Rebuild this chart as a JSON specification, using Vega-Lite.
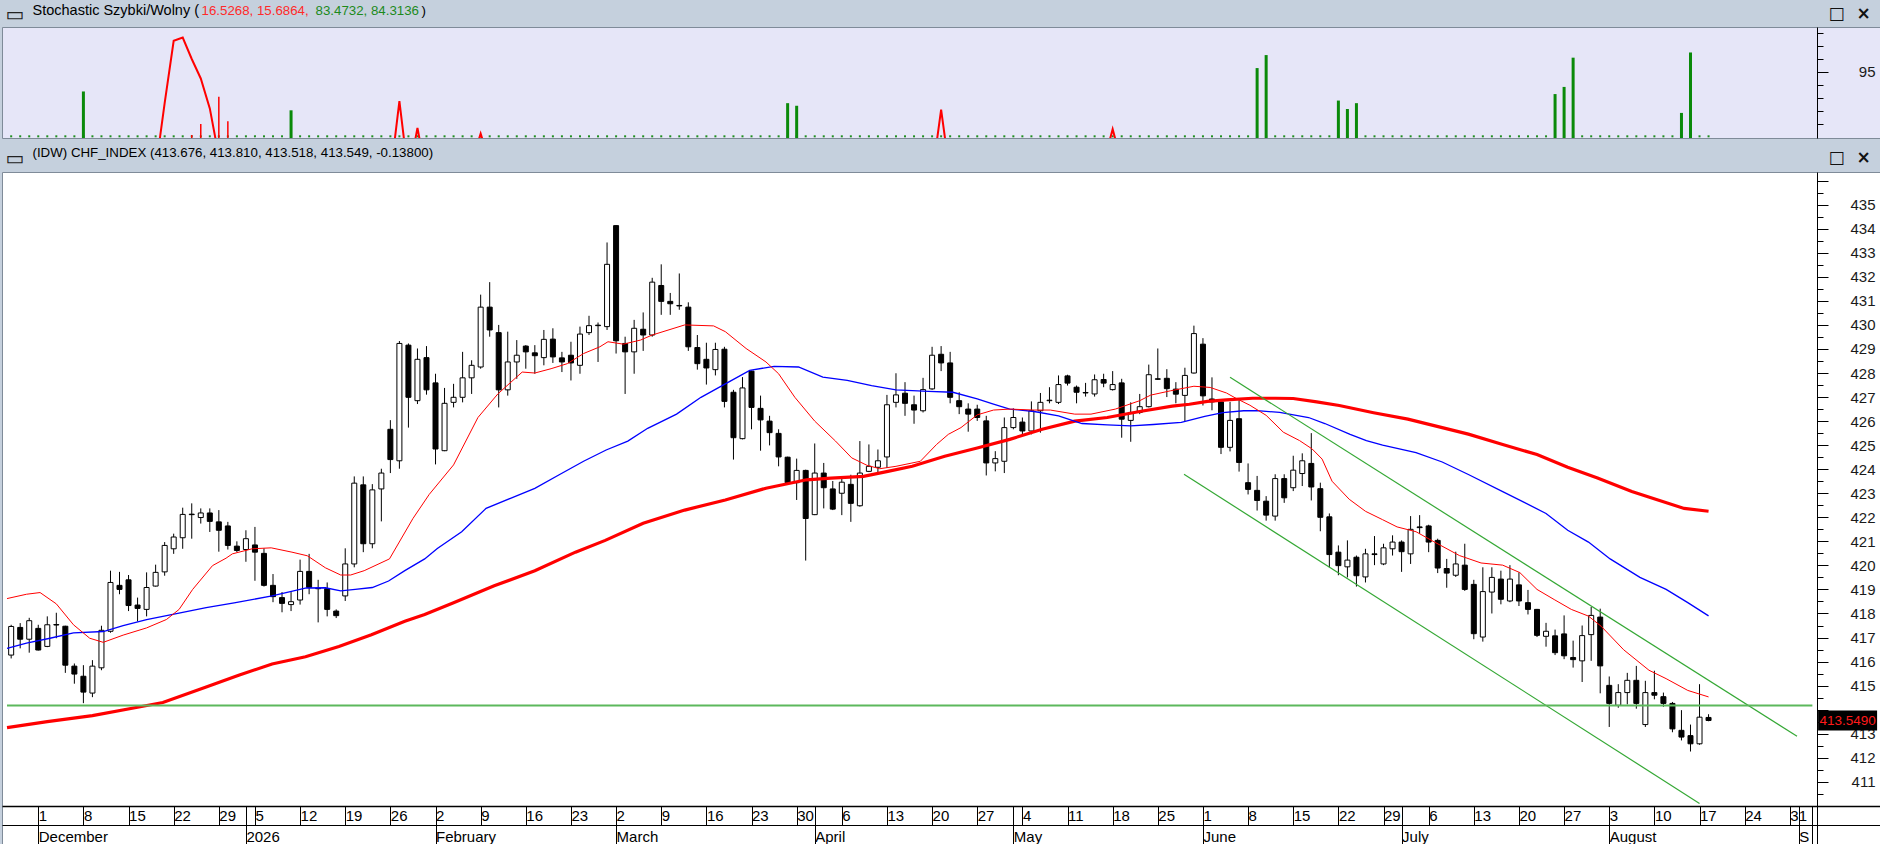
{
  "$schema": "https://vega.github.io/schema/vega-lite/v6.json",
  "background": "#c5d0dd",
  "padding": {"left": 0, "right": 0, "top": 2, "bottom": 0},
  "spacing": 6,
  "config": {"font": "Liberation Sans", "axis": {"labelFont": "Liberation Sans", "titleFont": "Liberation Sans"}},
  "datasets": {
    "candles": [
      {"i": -4, "o": 416.27, "h": 417.53, "l": 416.13, "c": 417.46},
      {"i": -3, "o": 417.42, "h": 417.6, "l": 416.55, "c": 416.93},
      {"i": -2, "o": 416.93, "h": 417.82, "l": 416.37, "c": 417.7},
      {"i": -1, "o": 417.38, "h": 417.53, "l": 416.46, "c": 416.48},
      {"i": 0, "o": 416.63, "h": 417.88, "l": 416.6, "c": 417.53},
      {"i": 1, "o": 417.54, "h": 418.03, "l": 416.97, "c": 417.52},
      {"i": 2, "o": 417.47, "h": 417.49, "l": 415.53, "c": 415.85},
      {"i": 3, "o": 415.81, "h": 415.92, "l": 415.08, "c": 415.48},
      {"i": 4, "o": 415.39, "h": 415.85, "l": 414.27, "c": 414.73},
      {"i": 5, "o": 414.69, "h": 416.06, "l": 414.52, "c": 415.81},
      {"i": 6, "o": 415.74, "h": 417.49, "l": 415.64, "c": 417.3},
      {"i": 7, "o": 417.26, "h": 419.78, "l": 417.2, "c": 419.29},
      {"i": 8, "o": 419.17, "h": 419.73, "l": 418.8, "c": 419.0},
      {"i": 9, "o": 419.4, "h": 419.6, "l": 418.1, "c": 418.33},
      {"i": 10, "o": 418.35, "h": 418.66, "l": 417.67, "c": 418.21},
      {"i": 11, "o": 418.17, "h": 419.71, "l": 417.88, "c": 419.08},
      {"i": 12, "o": 419.14, "h": 420.03, "l": 419.12, "c": 419.71},
      {"i": 13, "o": 419.73, "h": 420.97, "l": 419.57, "c": 420.83},
      {"i": 14, "o": 420.69, "h": 421.32, "l": 420.48, "c": 421.18},
      {"i": 15, "o": 421.15, "h": 422.4, "l": 420.69, "c": 422.12},
      {"i": 16, "o": 422.13, "h": 422.58, "l": 421.11, "c": 422.11},
      {"i": 17, "o": 421.99, "h": 422.37, "l": 421.74, "c": 422.18},
      {"i": 18, "o": 422.18, "h": 422.37, "l": 421.39, "c": 421.83},
      {"i": 19, "o": 421.81, "h": 422.3, "l": 420.57, "c": 421.46},
      {"i": 20, "o": 421.64, "h": 421.81, "l": 420.66, "c": 420.83},
      {"i": 21, "o": 420.8, "h": 421.0, "l": 420.55, "c": 420.62},
      {"i": 22, "o": 420.66, "h": 421.46, "l": 420.15, "c": 421.11},
      {"i": 23, "o": 420.85, "h": 421.6, "l": 419.36, "c": 420.55},
      {"i": 24, "o": 420.5, "h": 420.71, "l": 419.12, "c": 419.17},
      {"i": 25, "o": 419.17, "h": 419.64, "l": 418.47, "c": 418.7},
      {"i": 26, "o": 418.66, "h": 418.89, "l": 418.05, "c": 418.42},
      {"i": 27, "o": 418.37, "h": 418.89, "l": 418.1, "c": 418.49},
      {"i": 28, "o": 418.56, "h": 420.24, "l": 418.37, "c": 419.75},
      {"i": 29, "o": 419.75, "h": 420.48, "l": 418.8, "c": 419.08},
      {"i": 30, "o": 419.05, "h": 419.4, "l": 417.63, "c": 419.03},
      {"i": 31, "o": 419.03, "h": 419.29, "l": 417.88, "c": 418.17},
      {"i": 32, "o": 418.1, "h": 418.17, "l": 417.81, "c": 417.91},
      {"i": 33, "o": 418.73, "h": 420.71, "l": 418.52, "c": 420.06},
      {"i": 34, "o": 420.06, "h": 423.7, "l": 419.92, "c": 423.42},
      {"i": 35, "o": 423.35, "h": 423.7, "l": 420.55, "c": 420.9},
      {"i": 36, "o": 420.9, "h": 423.38, "l": 420.71, "c": 423.14},
      {"i": 37, "o": 423.18, "h": 424.02, "l": 421.83, "c": 423.84},
      {"i": 38, "o": 425.66, "h": 426.04, "l": 423.84, "c": 424.4},
      {"i": 39, "o": 424.35, "h": 429.33, "l": 424.02, "c": 429.23},
      {"i": 40, "o": 429.16, "h": 429.23, "l": 425.73, "c": 426.99},
      {"i": 41, "o": 426.85, "h": 429.02, "l": 426.71, "c": 428.57},
      {"i": 42, "o": 428.64, "h": 429.12, "l": 427.1, "c": 427.3},
      {"i": 43, "o": 427.59, "h": 427.97, "l": 424.2, "c": 424.84},
      {"i": 44, "o": 424.77, "h": 427.38, "l": 424.75, "c": 426.74},
      {"i": 45, "o": 426.78, "h": 427.55, "l": 426.57, "c": 426.99},
      {"i": 46, "o": 426.99, "h": 428.88, "l": 426.78, "c": 427.8},
      {"i": 47, "o": 427.8, "h": 428.53, "l": 427.13, "c": 428.32},
      {"i": 48, "o": 428.25, "h": 431.26, "l": 428.18, "c": 430.74},
      {"i": 49, "o": 430.74, "h": 431.78, "l": 429.51, "c": 429.79},
      {"i": 50, "o": 429.68, "h": 430.0, "l": 426.57, "c": 427.3},
      {"i": 51, "o": 427.3, "h": 429.72, "l": 427.06, "c": 428.46},
      {"i": 52, "o": 428.46, "h": 429.37, "l": 427.76, "c": 428.74},
      {"i": 53, "o": 429.12, "h": 429.16, "l": 428.18, "c": 428.88},
      {"i": 54, "o": 428.84, "h": 429.16, "l": 427.97, "c": 428.72},
      {"i": 55, "o": 428.64, "h": 429.79, "l": 428.32, "c": 429.4},
      {"i": 56, "o": 429.41, "h": 429.86, "l": 428.42, "c": 428.67},
      {"i": 57, "o": 428.63, "h": 428.88, "l": 428.04, "c": 428.46},
      {"i": 58, "o": 428.74, "h": 429.3, "l": 427.69, "c": 428.42},
      {"i": 59, "o": 428.32, "h": 429.93, "l": 427.97, "c": 429.62},
      {"i": 60, "o": 429.68, "h": 430.38, "l": 429.58, "c": 429.97},
      {"i": 61, "o": 429.99, "h": 430.1, "l": 428.46, "c": 429.97},
      {"i": 62, "o": 429.93, "h": 433.43, "l": 429.79, "c": 432.52},
      {"i": 63, "o": 434.13, "h": 434.15, "l": 428.81, "c": 429.34},
      {"i": 64, "o": 429.23, "h": 429.51, "l": 427.13, "c": 428.88},
      {"i": 65, "o": 428.88, "h": 430.21, "l": 427.97, "c": 429.86},
      {"i": 66, "o": 429.82, "h": 430.52, "l": 428.92, "c": 429.58},
      {"i": 67, "o": 429.58, "h": 431.96, "l": 429.51, "c": 431.78},
      {"i": 68, "o": 431.64, "h": 432.52, "l": 430.42, "c": 430.98},
      {"i": 69, "o": 430.98, "h": 431.33, "l": 430.42, "c": 430.88},
      {"i": 70, "o": 430.81, "h": 432.14, "l": 430.63, "c": 430.79},
      {"i": 71, "o": 430.74, "h": 430.94, "l": 428.92, "c": 429.09},
      {"i": 72, "o": 429.06, "h": 429.58, "l": 428.14, "c": 428.39},
      {"i": 73, "o": 428.57, "h": 429.26, "l": 427.52, "c": 428.21},
      {"i": 74, "o": 428.14, "h": 429.26, "l": 427.9, "c": 428.98},
      {"i": 75, "o": 428.99, "h": 429.09, "l": 426.57, "c": 426.82},
      {"i": 76, "o": 427.2, "h": 427.3, "l": 424.4, "c": 425.31},
      {"i": 77, "o": 425.27, "h": 427.83, "l": 425.24, "c": 427.38},
      {"i": 78, "o": 428.08, "h": 428.1, "l": 425.66, "c": 426.57},
      {"i": 79, "o": 426.53, "h": 427.06, "l": 424.77, "c": 426.05},
      {"i": 80, "o": 426.0, "h": 426.22, "l": 424.99, "c": 425.52},
      {"i": 81, "o": 425.49, "h": 425.66, "l": 424.12, "c": 424.51},
      {"i": 82, "o": 424.5, "h": 424.52, "l": 423.35, "c": 423.44},
      {"i": 83, "o": 423.44, "h": 424.44, "l": 422.72, "c": 423.95},
      {"i": 84, "o": 423.95, "h": 423.98, "l": 420.2, "c": 421.95},
      {"i": 85, "o": 422.11, "h": 425.07, "l": 422.09, "c": 423.84},
      {"i": 86, "o": 423.84, "h": 424.26, "l": 422.37, "c": 423.23},
      {"i": 87, "o": 423.18, "h": 423.51, "l": 422.3, "c": 422.34},
      {"i": 88, "o": 423.0, "h": 423.63, "l": 422.09, "c": 423.46},
      {"i": 89, "o": 423.37, "h": 423.77, "l": 421.81, "c": 422.58},
      {"i": 90, "o": 422.48, "h": 425.17, "l": 422.44, "c": 423.84},
      {"i": 91, "o": 423.91, "h": 425.03, "l": 423.88, "c": 424.12},
      {"i": 92, "o": 424.08, "h": 424.82, "l": 423.84, "c": 424.35},
      {"i": 93, "o": 424.51, "h": 427.09, "l": 424.05, "c": 426.68},
      {"i": 94, "o": 426.78, "h": 427.99, "l": 426.57, "c": 427.09},
      {"i": 95, "o": 427.16, "h": 427.62, "l": 426.22, "c": 426.74},
      {"i": 96, "o": 426.68, "h": 427.06, "l": 425.89, "c": 426.46},
      {"i": 97, "o": 426.43, "h": 427.8, "l": 426.36, "c": 427.31},
      {"i": 98, "o": 427.34, "h": 429.09, "l": 427.3, "c": 428.74},
      {"i": 99, "o": 428.78, "h": 429.12, "l": 428.08, "c": 428.42},
      {"i": 100, "o": 428.42, "h": 428.88, "l": 426.74, "c": 426.99},
      {"i": 101, "o": 426.85, "h": 427.2, "l": 426.29, "c": 426.6},
      {"i": 102, "o": 426.5, "h": 426.74, "l": 425.56, "c": 426.29},
      {"i": 103, "o": 426.5, "h": 426.68, "l": 426.01, "c": 426.15},
      {"i": 104, "o": 426.01, "h": 426.22, "l": 423.74, "c": 424.26},
      {"i": 105, "o": 424.26, "h": 424.75, "l": 423.91, "c": 424.44},
      {"i": 106, "o": 424.33, "h": 426.15, "l": 423.84, "c": 425.73},
      {"i": 107, "o": 425.73, "h": 426.53, "l": 425.66, "c": 426.15},
      {"i": 108, "o": 425.96, "h": 426.15, "l": 425.45, "c": 425.59},
      {"i": 109, "o": 425.59, "h": 426.82, "l": 425.45, "c": 426.43},
      {"i": 110, "o": 426.43, "h": 427.17, "l": 425.52, "c": 426.78},
      {"i": 111, "o": 426.85, "h": 427.41, "l": 426.74, "c": 426.87},
      {"i": 112, "o": 426.78, "h": 427.9, "l": 426.71, "c": 427.52},
      {"i": 113, "o": 427.88, "h": 427.93, "l": 427.48, "c": 427.58},
      {"i": 114, "o": 427.41, "h": 427.48, "l": 426.74, "c": 427.2},
      {"i": 115, "o": 427.17, "h": 427.59, "l": 427.02, "c": 427.19},
      {"i": 116, "o": 427.13, "h": 427.94, "l": 427.02, "c": 427.72},
      {"i": 117, "o": 427.73, "h": 427.97, "l": 427.41, "c": 427.58},
      {"i": 118, "o": 427.31, "h": 428.08, "l": 427.27, "c": 427.52},
      {"i": 119, "o": 427.59, "h": 427.76, "l": 425.31, "c": 426.08},
      {"i": 120, "o": 426.03, "h": 426.78, "l": 425.14, "c": 426.36},
      {"i": 121, "o": 426.36, "h": 427.13, "l": 426.29, "c": 426.6},
      {"i": 122, "o": 426.6, "h": 428.35, "l": 426.57, "c": 427.93},
      {"i": 123, "o": 427.76, "h": 429.02, "l": 427.72, "c": 427.74},
      {"i": 124, "o": 427.78, "h": 428.16, "l": 427.0, "c": 427.35},
      {"i": 125, "o": 427.33, "h": 427.62, "l": 426.74, "c": 427.12},
      {"i": 126, "o": 427.07, "h": 428.22, "l": 426.0, "c": 427.9},
      {"i": 127, "o": 428.0, "h": 429.97, "l": 427.98, "c": 429.64},
      {"i": 128, "o": 429.2, "h": 429.45, "l": 426.65, "c": 427.05},
      {"i": 129, "o": 426.92, "h": 427.82, "l": 426.45, "c": 426.8},
      {"i": 130, "o": 426.8, "h": 426.87, "l": 424.63, "c": 424.91},
      {"i": 131, "o": 424.91, "h": 426.8, "l": 424.74, "c": 426.03},
      {"i": 132, "o": 426.1, "h": 426.87, "l": 423.9, "c": 424.28},
      {"i": 133, "o": 423.44, "h": 424.24, "l": 422.95, "c": 423.16},
      {"i": 134, "o": 423.12, "h": 423.72, "l": 422.28, "c": 422.7},
      {"i": 135, "o": 422.67, "h": 422.88, "l": 421.86, "c": 422.09},
      {"i": 136, "o": 422.05, "h": 423.79, "l": 421.86, "c": 423.61},
      {"i": 137, "o": 423.61, "h": 423.79, "l": 422.6, "c": 422.81},
      {"i": 138, "o": 423.23, "h": 424.56, "l": 423.09, "c": 423.96},
      {"i": 139, "o": 423.82, "h": 424.66, "l": 423.3, "c": 424.35},
      {"i": 140, "o": 424.24, "h": 425.5, "l": 422.7, "c": 423.26},
      {"i": 141, "o": 423.19, "h": 423.44, "l": 421.42, "c": 422.0},
      {"i": 142, "o": 422.02, "h": 422.16, "l": 419.92, "c": 420.45},
      {"i": 143, "o": 420.55, "h": 420.83, "l": 419.59, "c": 419.99},
      {"i": 144, "o": 419.94, "h": 421.04, "l": 419.5, "c": 420.22},
      {"i": 145, "o": 420.34, "h": 420.41, "l": 419.12, "c": 419.57},
      {"i": 146, "o": 419.52, "h": 420.69, "l": 419.29, "c": 420.48},
      {"i": 147, "o": 420.48, "h": 421.22, "l": 420.01, "c": 420.45},
      {"i": 148, "o": 420.06, "h": 420.9, "l": 420.01, "c": 420.73},
      {"i": 149, "o": 420.69, "h": 421.25, "l": 420.41, "c": 420.97},
      {"i": 150, "o": 420.97, "h": 421.04, "l": 419.73, "c": 420.57},
      {"i": 151, "o": 420.48, "h": 422.05, "l": 420.06, "c": 421.5},
      {"i": 152, "o": 421.6, "h": 422.09, "l": 421.32, "c": 421.57},
      {"i": 153, "o": 421.64, "h": 421.69, "l": 420.55, "c": 420.97},
      {"i": 154, "o": 421.04, "h": 421.11, "l": 419.68, "c": 419.89},
      {"i": 155, "o": 419.87, "h": 420.27, "l": 419.07, "c": 419.68},
      {"i": 156, "o": 419.59, "h": 420.57, "l": 419.52, "c": 420.06},
      {"i": 157, "o": 420.01, "h": 420.9, "l": 418.94, "c": 419.0},
      {"i": 158, "o": 419.21, "h": 419.4, "l": 416.93, "c": 417.16},
      {"i": 159, "o": 417.02, "h": 419.92, "l": 416.83, "c": 418.91},
      {"i": 160, "o": 418.89, "h": 419.92, "l": 418.0, "c": 419.5},
      {"i": 161, "o": 419.43, "h": 419.78, "l": 418.38, "c": 418.59},
      {"i": 162, "o": 418.52, "h": 420.01, "l": 418.47, "c": 419.43},
      {"i": 163, "o": 419.19, "h": 419.71, "l": 418.31, "c": 418.52},
      {"i": 164, "o": 418.45, "h": 418.98, "l": 417.96, "c": 418.17},
      {"i": 165, "o": 418.17, "h": 418.19, "l": 417.02, "c": 417.09},
      {"i": 166, "o": 417.05, "h": 417.61, "l": 416.62, "c": 417.26},
      {"i": 167, "o": 417.07, "h": 417.33, "l": 416.27, "c": 416.37},
      {"i": 168, "o": 417.15, "h": 417.92, "l": 416.1, "c": 416.24},
      {"i": 169, "o": 416.17, "h": 416.87, "l": 415.75, "c": 416.08},
      {"i": 170, "o": 416.03, "h": 417.5, "l": 415.15, "c": 417.08},
      {"i": 171, "o": 417.12, "h": 418.27, "l": 416.03, "c": 417.92},
      {"i": 172, "o": 417.85, "h": 418.2, "l": 414.68, "c": 415.82},
      {"i": 173, "o": 415.01, "h": 415.38, "l": 413.28, "c": 414.26},
      {"i": 174, "o": 414.18, "h": 415.06, "l": 414.08, "c": 414.71},
      {"i": 175, "o": 414.71, "h": 415.53, "l": 414.22, "c": 415.22},
      {"i": 176, "o": 415.22, "h": 415.82, "l": 414.04, "c": 414.26},
      {"i": 177, "o": 413.38, "h": 415.2, "l": 413.28, "c": 414.71},
      {"i": 178, "o": 414.71, "h": 415.62, "l": 414.43, "c": 414.6},
      {"i": 179, "o": 414.54, "h": 414.71, "l": 414.12, "c": 414.26},
      {"i": 180, "o": 414.26, "h": 414.32, "l": 413.06, "c": 413.2},
      {"i": 181, "o": 413.14, "h": 413.98, "l": 412.72, "c": 412.86},
      {"i": 182, "o": 412.92, "h": 413.38, "l": 412.26, "c": 412.58},
      {"i": 183, "o": 412.58, "h": 415.06, "l": 412.54, "c": 413.687},
      {"i": 184, "o": 413.676, "h": 413.81, "l": 413.518, "c": 413.549}
    ],
    "ma": [
      {"ma": "fast", "i": -4.46, "v": 418.62}, {"ma": "fast", "i": -2.3, "v": 418.8}, {"ma": "fast", "i": -0.8, "v": 418.87},
      {"ma": "fast", "i": 1.0, "v": 418.4}, {"ma": "fast", "i": 2.9, "v": 417.53}, {"ma": "fast", "i": 4.7, "v": 416.97},
      {"ma": "fast", "i": 6.2, "v": 416.8}, {"ma": "fast", "i": 8.4, "v": 417.1}, {"ma": "fast", "i": 11, "v": 417.4},
      {"ma": "fast", "i": 13.2, "v": 417.75}, {"ma": "fast", "i": 14.6, "v": 418.17}, {"ma": "fast", "i": 16.1, "v": 419.0},
      {"ma": "fast", "i": 18.3, "v": 419.99}, {"ma": "fast", "i": 19.8, "v": 420.3}, {"ma": "fast", "i": 20.5, "v": 420.48},
      {"ma": "fast", "i": 22.7, "v": 420.69}, {"ma": "fast", "i": 24.8, "v": 420.73}, {"ma": "fast", "i": 27.1, "v": 420.55},
      {"ma": "fast", "i": 28.8, "v": 420.4}, {"ma": "fast", "i": 30.8, "v": 419.9}, {"ma": "fast", "i": 32.5, "v": 419.6},
      {"ma": "fast", "i": 33.6, "v": 419.6}, {"ma": "fast", "i": 35.1, "v": 419.78}, {"ma": "fast", "i": 37.9, "v": 420.27},
      {"ma": "fast", "i": 40.5, "v": 421.95}, {"ma": "fast", "i": 42.3, "v": 422.95}, {"ma": "fast", "i": 45, "v": 424.18},
      {"ma": "fast", "i": 47.7, "v": 426.15}, {"ma": "fast", "i": 49.9, "v": 427.13}, {"ma": "fast", "i": 52.6, "v": 428.04},
      {"ma": "fast", "i": 54, "v": 428.0}, {"ma": "fast", "i": 55.8, "v": 428.18}, {"ma": "fast", "i": 57.6, "v": 428.39},
      {"ma": "fast", "i": 59.4, "v": 428.81}, {"ma": "fast", "i": 61.2, "v": 429.09}, {"ma": "fast", "i": 62.1, "v": 429.3},
      {"ma": "fast", "i": 63.8, "v": 429.2}, {"ma": "fast", "i": 65.7, "v": 429.37}, {"ma": "fast", "i": 67, "v": 429.58},
      {"ma": "fast", "i": 70.6, "v": 430.0}, {"ma": "fast", "i": 73.8, "v": 429.96}, {"ma": "fast", "i": 75.1, "v": 429.72},
      {"ma": "fast", "i": 77.4, "v": 429.02}, {"ma": "fast", "i": 79.6, "v": 428.46}, {"ma": "fast", "i": 81, "v": 427.97},
      {"ma": "fast", "i": 82.8, "v": 426.99}, {"ma": "fast", "i": 85, "v": 426.0}, {"ma": "fast", "i": 87.3, "v": 425.17},
      {"ma": "fast", "i": 89.1, "v": 424.47}, {"ma": "fast", "i": 90.8, "v": 424.16}, {"ma": "fast", "i": 92.2, "v": 424.02},
      {"ma": "fast", "i": 94, "v": 424.12}, {"ma": "fast", "i": 96.7, "v": 424.33}, {"ma": "fast", "i": 98.5, "v": 425.03},
      {"ma": "fast", "i": 99.8, "v": 425.45}, {"ma": "fast", "i": 101.2, "v": 425.73}, {"ma": "fast", "i": 103, "v": 426.26},
      {"ma": "fast", "i": 104.8, "v": 426.46}, {"ma": "fast", "i": 106.6, "v": 426.5}, {"ma": "fast", "i": 109.3, "v": 426.46},
      {"ma": "fast", "i": 111.1, "v": 426.46}, {"ma": "fast", "i": 113.8, "v": 426.29}, {"ma": "fast", "i": 115.6, "v": 426.29},
      {"ma": "fast", "i": 118.3, "v": 426.5}, {"ma": "fast", "i": 121, "v": 426.85}, {"ma": "fast", "i": 122.2, "v": 427.08},
      {"ma": "fast", "i": 124.4, "v": 427.26}, {"ma": "fast", "i": 127, "v": 427.45}, {"ma": "fast", "i": 128.8, "v": 427.4},
      {"ma": "fast", "i": 130.6, "v": 427.17}, {"ma": "fast", "i": 131.7, "v": 426.94}, {"ma": "fast", "i": 133.2, "v": 426.66},
      {"ma": "fast", "i": 135, "v": 426.24}, {"ma": "fast", "i": 136.9, "v": 425.54}, {"ma": "fast", "i": 138.7, "v": 425.19},
      {"ma": "fast", "i": 140.1, "v": 424.84}, {"ma": "fast", "i": 141.2, "v": 424.42}, {"ma": "fast", "i": 142.3, "v": 423.5},
      {"ma": "fast", "i": 144.2, "v": 422.75}, {"ma": "fast", "i": 146, "v": 422.25}, {"ma": "fast", "i": 147.9, "v": 421.9},
      {"ma": "fast", "i": 149.5, "v": 421.6}, {"ma": "fast", "i": 151.6, "v": 421.4}, {"ma": "fast", "i": 153.5, "v": 421.0},
      {"ma": "fast", "i": 156.4, "v": 420.41}, {"ma": "fast", "i": 158.8, "v": 420.1}, {"ma": "fast", "i": 161.2, "v": 420.01},
      {"ma": "fast", "i": 163.1, "v": 419.7}, {"ma": "fast", "i": 165, "v": 419.0}, {"ma": "fast", "i": 166.9, "v": 418.58},
      {"ma": "fast", "i": 168.8, "v": 418.17}, {"ma": "fast", "i": 170.7, "v": 417.89}, {"ma": "fast", "i": 172.1, "v": 417.47},
      {"ma": "fast", "i": 174.6, "v": 416.49}, {"ma": "fast", "i": 177.4, "v": 415.64}, {"ma": "fast", "i": 179.3, "v": 415.29},
      {"ma": "fast", "i": 181.7, "v": 414.8}, {"ma": "fast", "i": 184, "v": 414.53},
      {"ma": "mid", "i": -4.46, "v": 416.55}, {"ma": "mid", "i": -2.3, "v": 416.77}, {"ma": "mid", "i": 0.3, "v": 416.97},
      {"ma": "mid", "i": 2.9, "v": 417.19}, {"ma": "mid", "i": 6.2, "v": 417.25}, {"ma": "mid", "i": 8.4, "v": 417.49},
      {"ma": "mid", "i": 11, "v": 417.74}, {"ma": "mid", "i": 13.9, "v": 417.96}, {"ma": "mid", "i": 17.6, "v": 418.24},
      {"ma": "mid", "i": 20.7, "v": 418.44}, {"ma": "mid", "i": 24.9, "v": 418.73}, {"ma": "mid", "i": 28.7, "v": 419.06},
      {"ma": "mid", "i": 30.8, "v": 419.07}, {"ma": "mid", "i": 32.5, "v": 418.94}, {"ma": "mid", "i": 34.1, "v": 419.0},
      {"ma": "mid", "i": 36, "v": 419.08}, {"ma": "mid", "i": 37.8, "v": 419.35}, {"ma": "mid", "i": 39.6, "v": 419.78},
      {"ma": "mid", "i": 41.8, "v": 420.27}, {"ma": "mid", "i": 43.2, "v": 420.7}, {"ma": "mid", "i": 45.9, "v": 421.4},
      {"ma": "mid", "i": 48.6, "v": 422.37}, {"ma": "mid", "i": 51.3, "v": 422.79}, {"ma": "mid", "i": 54, "v": 423.2},
      {"ma": "mid", "i": 56.7, "v": 423.77}, {"ma": "mid", "i": 59.4, "v": 424.33}, {"ma": "mid", "i": 61.9, "v": 424.8},
      {"ma": "mid", "i": 64.3, "v": 425.17}, {"ma": "mid", "i": 66.5, "v": 425.7}, {"ma": "mid", "i": 69.7, "v": 426.29},
      {"ma": "mid", "i": 72.4, "v": 426.99}, {"ma": "mid", "i": 75.1, "v": 427.55}, {"ma": "mid", "i": 77.8, "v": 428.11},
      {"ma": "mid", "i": 80.5, "v": 428.28}, {"ma": "mid", "i": 83.2, "v": 428.25}, {"ma": "mid", "i": 85.9, "v": 427.83},
      {"ma": "mid", "i": 88.6, "v": 427.69}, {"ma": "mid", "i": 91.3, "v": 427.48}, {"ma": "mid", "i": 94, "v": 427.3},
      {"ma": "mid", "i": 97.6, "v": 427.24}, {"ma": "mid", "i": 100.3, "v": 427.2}, {"ma": "mid", "i": 103, "v": 426.92},
      {"ma": "mid", "i": 104.8, "v": 426.71}, {"ma": "mid", "i": 106.6, "v": 426.5}, {"ma": "mid", "i": 109.3, "v": 426.4},
      {"ma": "mid", "i": 112, "v": 426.22}, {"ma": "mid", "i": 114.6, "v": 425.9}, {"ma": "mid", "i": 117.4, "v": 425.84},
      {"ma": "mid", "i": 120, "v": 425.8}, {"ma": "mid", "i": 122.5, "v": 425.86}, {"ma": "mid", "i": 125.6, "v": 425.95},
      {"ma": "mid", "i": 128.2, "v": 426.2}, {"ma": "mid", "i": 130.2, "v": 426.35}, {"ma": "mid", "i": 132.5, "v": 426.43},
      {"ma": "mid", "i": 134, "v": 426.44}, {"ma": "mid", "i": 136.5, "v": 426.36}, {"ma": "mid", "i": 139.7, "v": 426.15},
      {"ma": "mid", "i": 141.5, "v": 425.9}, {"ma": "mid", "i": 144.3, "v": 425.45}, {"ma": "mid", "i": 146.1, "v": 425.19},
      {"ma": "mid", "i": 147.9, "v": 425.0}, {"ma": "mid", "i": 151.6, "v": 424.69}, {"ma": "mid", "i": 154.5, "v": 424.3},
      {"ma": "mid", "i": 157.4, "v": 423.78}, {"ma": "mid", "i": 161.2, "v": 423.07}, {"ma": "mid", "i": 166, "v": 422.16},
      {"ma": "mid", "i": 168.4, "v": 421.46}, {"ma": "mid", "i": 170.7, "v": 420.97}, {"ma": "mid", "i": 173.1, "v": 420.27},
      {"ma": "mid", "i": 176.4, "v": 419.5}, {"ma": "mid", "i": 179.3, "v": 419.0}, {"ma": "mid", "i": 181.7, "v": 418.45},
      {"ma": "mid", "i": 184, "v": 417.9},
      {"ma": "slow", "i": -4.46, "v": 413.25}, {"ma": "slow", "i": 0, "v": 413.5}, {"ma": "slow", "i": 5, "v": 413.75},
      {"ma": "slow", "i": 10, "v": 414.1}, {"ma": "slow", "i": 12.8, "v": 414.3}, {"ma": "slow", "i": 17.6, "v": 414.94},
      {"ma": "slow", "i": 21.2, "v": 415.43}, {"ma": "slow", "i": 24.9, "v": 415.9}, {"ma": "slow", "i": 28.6, "v": 416.2},
      {"ma": "slow", "i": 32.3, "v": 416.63}, {"ma": "slow", "i": 35.9, "v": 417.12}, {"ma": "slow", "i": 39.6, "v": 417.68},
      {"ma": "slow", "i": 41.8, "v": 417.96}, {"ma": "slow", "i": 45, "v": 418.45}, {"ma": "slow", "i": 49.5, "v": 419.15},
      {"ma": "slow", "i": 54, "v": 419.78}, {"ma": "slow", "i": 58.5, "v": 420.55}, {"ma": "slow", "i": 61.8, "v": 421.04},
      {"ma": "slow", "i": 66, "v": 421.75}, {"ma": "slow", "i": 70.6, "v": 422.3}, {"ma": "slow", "i": 75.1, "v": 422.72},
      {"ma": "slow", "i": 79.6, "v": 423.21}, {"ma": "slow", "i": 84.1, "v": 423.56}, {"ma": "slow", "i": 86.8, "v": 423.63},
      {"ma": "slow", "i": 90.4, "v": 423.7}, {"ma": "slow", "i": 93.1, "v": 423.91}, {"ma": "slow", "i": 95.8, "v": 424.12},
      {"ma": "slow", "i": 99.4, "v": 424.54}, {"ma": "slow", "i": 103, "v": 424.88}, {"ma": "slow", "i": 106.6, "v": 425.24},
      {"ma": "slow", "i": 110.2, "v": 425.66}, {"ma": "slow", "i": 113.8, "v": 426.0}, {"ma": "slow", "i": 117.4, "v": 426.15},
      {"ma": "slow", "i": 121, "v": 426.4}, {"ma": "slow", "i": 124.6, "v": 426.62}, {"ma": "slow", "i": 126.5, "v": 426.7},
      {"ma": "slow", "i": 128.5, "v": 426.82}, {"ma": "slow", "i": 130.6, "v": 426.88}, {"ma": "slow", "i": 133.5, "v": 426.95},
      {"ma": "slow", "i": 136, "v": 426.95}, {"ma": "slow", "i": 138, "v": 426.94}, {"ma": "slow", "i": 140.6, "v": 426.8},
      {"ma": "slow", "i": 143.1, "v": 426.65}, {"ma": "slow", "i": 146.9, "v": 426.35}, {"ma": "slow", "i": 150.7, "v": 426.08},
      {"ma": "slow", "i": 154.5, "v": 425.73}, {"ma": "slow", "i": 157.4, "v": 425.46}, {"ma": "slow", "i": 161.2, "v": 425.03},
      {"ma": "slow", "i": 165, "v": 424.61}, {"ma": "slow", "i": 168.4, "v": 424.08}, {"ma": "slow", "i": 171.7, "v": 423.63},
      {"ma": "slow", "i": 175.5, "v": 423.07}, {"ma": "slow", "i": 178.4, "v": 422.72}, {"ma": "slow", "i": 181.3, "v": 422.37},
      {"ma": "slow", "i": 184, "v": 422.25}
    ],
    "channel": [
      {"line": "upper", "i": 131, "p": 427.82}, {"line": "upper", "i": 193.8, "p": 412.89},
      {"line": "lower", "i": 125.9, "p": 423.79}, {"line": "lower", "i": 183, "p": 410.1}
    ],
    "levels": [{"level": 414.17}],
    "stochGreen": [
      {"i": 4, "v": 93.5}, {"i": 27, "v": 92.05}, {"i": 82, "v": 92.6}, {"i": 83, "v": 92.4},
      {"i": 134, "v": 95.3}, {"i": 135, "v": 96.3}, {"i": 143, "v": 92.8}, {"i": 144, "v": 92.15},
      {"i": 145, "v": 92.6}, {"i": 167, "v": 93.3}, {"i": 168, "v": 93.85}, {"i": 169, "v": 96.1},
      {"i": 181, "v": 91.85}, {"i": 182, "v": 96.5}
    ],
    "stochRedBars": [
      {"i": 16, "v": 90.15}, {"i": 17, "v": 91.0}, {"i": 19, "v": 93.1}, {"i": 20, "v": 91.2}
    ],
    "stochRedLine": [
      {"i": 12, "v": 87.5}, {"i": 13, "v": 92.6}, {"i": 14, "v": 97.4}, {"i": 15, "v": 97.65},
      {"i": 16, "v": 96.0}, {"i": 17, "v": 94.5}, {"i": 18, "v": 92.2}, {"i": 19, "v": 88.5},
      {"i": 38, "v": 87}, {"i": 39, "v": 92.75}, {"i": 40, "v": 87}, {"i": 41, "v": 90.7}, {"i": 42, "v": 87},
      {"i": 47, "v": 88}, {"i": 48, "v": 90.26}, {"i": 49, "v": 88},
      {"i": 98, "v": 87}, {"i": 99, "v": 92.1}, {"i": 100, "v": 87},
      {"i": 117, "v": 88}, {"i": 118, "v": 90.6}, {"i": 119, "v": 88}
    ]
  },
  "vconcat": [
    {
      "width": 1880,
      "height": 111,
      "view": {"fill": "#e6e6f8", "stroke": "#7f8b99"},
      "resolve": {"axis": {"x": "independent", "y": "independent"}},
      "layer": [
        {
          "data": {"name": "candles"},
          "mark": {"type": "square", "size": 4, "color": "#1f8f1f", "opacity": 1},
          "encoding": {
            "x": {"field": "i", "type": "quantitative", "scale": {"domain": [-4.462, 202.657], "nice": false, "zero": false},
              "axis": {"orient": "top", "domain": false, "ticks": false, "labels": false, "grid": false,
                "title": "Stochastic Szybki/Wolny (", "titleX": 30, "titleY": -12.5, "titleAlign": "left", "titleBaseline": "alphabetic",
                "titleFontSize": 14.5, "titleFontWeight": "normal", "titleColor": "#000000"}},
            "y": {"datum": 90.05, "type": "quantitative", "scale": {"domain": [89.92, 98.46], "nice": false, "zero": false},
              "axis": {"orient": "right", "offset": -65, "values": [91, 92, 93, 94, 96, 97, 98], "tickSize": 6, "labels": false,
                "domain": false, "grid": false, "tickColor": "#000000",
                "title": "□\u00a0\u00a0×", "titleAngle": 0, "titleX": 11, "titleY": -14, "titleAlign": "left", "titleBaseline": "middle",
                "titleFont": "DejaVu Sans", "titleFontSize": 17, "titleFontWeight": "bold", "titleColor": "#111111"}}
          }
        },
        {
          "data": {"name": "stochGreen"},
          "mark": {"type": "bar", "width": 3, "color": "#0a8a0a"},
          "encoding": {
            "x": {"field": "i", "type": "quantitative", "scale": {"domain": [-4.462, 202.657], "nice": false, "zero": false},
              "axis": {"orient": "top", "domain": false, "ticks": false, "labels": false, "grid": false,
                "title": "83.4732, 84.3136", "titleX": 313, "titleY": -12.5, "titleAlign": "left", "titleBaseline": "alphabetic",
                "titleFontSize": 13.3, "titleFontWeight": "normal", "titleColor": "#1c8a1c"}},
            "y": {"field": "v", "type": "quantitative", "scale": {"domain": [89.92, 98.46], "nice": false, "zero": false},
              "axis": {"orient": "right", "offset": -65, "values": [95], "tickSize": 11, "labelPadding": 47, "labelAlign": "right",
                "labelBaseline": "middle", "labelFontSize": 15, "labelColor": "#1a1a1a", "domainColor": "#000000",
                "tickColor": "#000000", "grid": false,
                "title": "▭", "titleAngle": 0, "titleX": -1812, "titleY": -13, "titleAlign": "left", "titleBaseline": "middle",
                "titleFont": "DejaVu Sans", "titleFontSize": 20, "titleFontWeight": "bold", "titleColor": "#222222"}},
            "y2": {"datum": 89.92}
          }
        },
        {
          "data": {"name": "stochRedBars"},
          "mark": {"type": "bar", "width": 1.5, "color": "#ff0000"},
          "encoding": {
            "x": {"field": "i", "type": "quantitative", "scale": {"domain": [-4.462, 202.657], "nice": false, "zero": false},
              "axis": {"orient": "top", "domain": false, "ticks": false, "labels": false, "grid": false,
                "title": ")", "titleX": 419, "titleY": -12.5, "titleAlign": "left", "titleBaseline": "alphabetic",
                "titleFontSize": 13.3, "titleFontWeight": "normal", "titleColor": "#000000"}},
            "y": {"field": "v", "type": "quantitative", "scale": {"domain": [89.92, 98.46], "nice": false, "zero": false}, "axis": null},
            "y2": {"datum": 89.92}
          }
        },
        {
          "data": {"name": "stochRedLine"},
          "mark": {"type": "line", "color": "#ff0000", "strokeWidth": 2, "clip": true},
          "encoding": {
            "x": {"field": "i", "type": "quantitative", "scale": {"domain": [-4.462, 202.657], "nice": false, "zero": false},
              "axis": {"orient": "top", "domain": false, "ticks": false, "labels": false, "grid": false,
                "title": "16.5268, 15.6864,", "titleX": 199, "titleY": -12.5, "titleAlign": "left", "titleBaseline": "alphabetic",
                "titleFontSize": 13.3, "titleFontWeight": "normal", "titleColor": "#ff2a2a"}},
            "y": {"field": "v", "type": "quantitative", "scale": {"domain": [89.92, 98.46], "nice": false, "zero": false}, "axis": null}
          }
        }
      ]
    },
    {
      "width": 1880,
      "height": 674,
      "view": {"fill": "#ffffff", "stroke": "#7f8b99"},
      "resolve": {"axis": {"x": "independent", "y": "independent"}},
      "layer": [
        {
          "data": {"name": "candles"},
          "mark": {"type": "rule", "color": "#000000", "strokeWidth": 1},
          "encoding": {
            "x": {"field": "i", "type": "quantitative", "scale": {"domain": [-4.462, 202.657], "nice": false, "zero": false},
              "axis": {"orient": "bottom", "offset": -40, "title": null, "grid": false,
                "values": [-1, 4, 9, 14, 19, 23, 28, 33, 38, 43, 48, 53, 58, 63, 68, 73, 78, 83, 88, 93, 98, 103, 108, 113, 118, 123, 128, 133, 138, 143, 148, 153, 158, 163, 168, 173, 178, 183, 188, 193, 195.5],
                "labelExpr": "['1','8','15','22','29','5','12','19','26','2','9','16','23','2','9','16','23','30','6','13','20','27','4','11','18','25','1','8','15','22','29','6','13','20','27','3','10','17','24','31',''][indexof([-1, 4, 9, 14, 19, 23, 28, 33, 38, 43, 48, 53, 58, 63, 68, 73, 78, 83, 88, 93, 98, 103, 108, 113, 118, 123, 128, 133, 138, 143, 148, 153, 158, 163, 168, 173, 178, 183, 188, 193, 195.5], datum.value)]",
                "tickSize": 19, "tickColor": "#000000", "domainColor": "#000000", "domainWidth": 1.5,
                "labelAlign": "left", "labelBaseline": "middle", "labelPadding": -9.5, "labelDx": 2,
                "labelFontSize": 15, "labelColor": "#000000", "labelOverlap": false, "labelBound": false, "labelFlush": false}},
            "y": {"field": "l", "type": "quantitative", "scale": {"domain": [408.33, 436.36], "nice": false, "zero": false},
              "axis": {"orient": "right", "offset": -65, "values": [410.5, 411.5, 412.5, 413.5, 414.5, 415.5, 416.5, 417.5, 418.5, 419.5, 420.5, 421.5, 422.5, 423.5, 424.5, 425.5, 426.5, 427.5, 428.5, 429.5, 430.5, 431.5, 432.5, 433.5, 434.5, 435.5],
                "tickSize": 6, "labels": false, "domain": false, "grid": false, "tickColor": "#000000",
                "title": "□\u00a0\u00a0×", "titleAngle": 0, "titleX": 11, "titleY": -15, "titleAlign": "left", "titleBaseline": "middle",
                "titleFont": "DejaVu Sans", "titleFontSize": 17, "titleFontWeight": "bold", "titleColor": "#111111"}},
            "y2": {"field": "h"}
          }
        },
        {
          "data": {"name": "candles"},
          "mark": {"type": "bar", "width": 5, "stroke": "#000000", "strokeWidth": 1},
          "encoding": {
            "x": {"field": "i", "type": "quantitative", "scale": {"domain": [-4.462, 202.657], "nice": false, "zero": false},
              "axis": {"orient": "bottom", "offset": -40, "title": null, "grid": false, "domain": false,
                "values": [-1, 22, 43, 63, 85, 107, 128, 150, 173, 194, 195.5],
                "labelExpr": "['December','2026','February','March','April','May','June','July','August','S',''][indexof([-1, 22, 43, 63, 85, 107, 128, 150, 173, 194, 195.5], datum.value)]",
                "tickSize": 40, "tickColor": "#000000",
                "labelAlign": "left", "labelBaseline": "middle", "labelPadding": -10, "labelDx": 2,
                "labelFontSize": 15, "labelColor": "#000000", "labelOverlap": false, "labelBound": false, "labelFlush": false}},
            "y": {"field": "o", "type": "quantitative", "scale": {"domain": [408.33, 436.36], "nice": false, "zero": false},
              "axis": {"orient": "right", "offset": -65, "values": [411, 412, 413, 414, 415, 416, 417, 418, 419, 420, 421, 422, 423, 424, 425, 426, 427, 428, 429, 430, 431, 432, 433, 434, 435, 436],
                "labelExpr": "datum.value > 435.5 || datum.value == 414 ? '' : datum.label",
                "tickSize": 11, "labelPadding": 47, "labelAlign": "right", "labelBaseline": "middle", "labelFontSize": 15,
                "labelColor": "#1a1a1a", "domainColor": "#000000", "tickColor": "#000000", "grid": false, "labelOverlap": false,
                "title": "▭", "titleAngle": 0, "titleX": -1812, "titleY": -14, "titleAlign": "left", "titleBaseline": "middle",
                "titleFont": "DejaVu Sans", "titleFontSize": 20, "titleFontWeight": "bold", "titleColor": "#222222"}},
            "y2": {"field": "c"},
            "fill": {"condition": {"test": "datum.c >= datum.o", "value": "#ffffff"}, "value": "#000000"}
          }
        },
        {
          "data": {"name": "ma"},
          "transform": [{"filter": "datum.ma == 'slow'"}],
          "mark": {"type": "line", "color": "#ff0000", "strokeWidth": 3.2},
          "encoding": {
            "x": {"field": "i", "type": "quantitative", "scale": {"domain": [-4.462, 202.657], "nice": false, "zero": false},
              "axis": {"orient": "bottom", "offset": -21, "ticks": false, "labels": false, "domain": true, "domainColor": "#000000", "grid": false, "title": null}},
            "y": {"field": "v", "type": "quantitative", "scale": {"domain": [408.33, 436.36], "nice": false, "zero": false}, "axis": null}
          }
        },
        {
          "data": {"name": "ma"},
          "transform": [{"filter": "datum.ma == 'mid'"}],
          "mark": {"type": "line", "color": "#0000ff", "strokeWidth": 1.3},
          "encoding": {
            "x": {"field": "i", "type": "quantitative", "scale": {"domain": [-4.462, 202.657], "nice": false, "zero": false}, "axis": null},
            "y": {"field": "v", "type": "quantitative", "scale": {"domain": [408.33, 436.36], "nice": false, "zero": false}, "axis": null}
          }
        },
        {
          "data": {"name": "ma"},
          "transform": [{"filter": "datum.ma == 'fast'"}],
          "mark": {"type": "line", "color": "#ff0000", "strokeWidth": 1},
          "encoding": {
            "x": {"field": "i", "type": "quantitative", "scale": {"domain": [-4.462, 202.657], "nice": false, "zero": false}, "axis": null},
            "y": {"field": "v", "type": "quantitative", "scale": {"domain": [408.33, 436.36], "nice": false, "zero": false}, "axis": null}
          }
        },
        {
          "data": {"name": "channel"},
          "mark": {"type": "line", "color": "#35a835", "strokeWidth": 1.2},
          "encoding": {
            "x": {"field": "i", "type": "quantitative", "scale": {"domain": [-4.462, 202.657], "nice": false, "zero": false},
              "axis": {"orient": "top", "domain": false, "ticks": false, "labels": false, "grid": false,
                "title": "(IDW) CHF_INDEX (413.676, 413.810, 413.518, 413.549, -0.13800)", "titleX": 30, "titleY": -15.5,
                "titleAlign": "left", "titleBaseline": "alphabetic", "titleFontSize": 13.3, "titleFontWeight": "normal", "titleColor": "#000000"}},
            "y": {"field": "p", "type": "quantitative", "scale": {"domain": [408.33, 436.36], "nice": false, "zero": false}, "axis": null},
            "detail": {"field": "line", "type": "nominal"}
          }
        },
        {
          "data": {"name": "levels"},
          "mark": {"type": "rule", "color": "#5cb85c", "strokeWidth": 2},
          "encoding": {
            "x": {"datum": -4.462, "type": "quantitative", "scale": {"domain": [-4.462, 202.657], "nice": false, "zero": false}, "axis": null},
            "x2": {"datum": 195.5},
            "y": {"field": "level", "type": "quantitative", "scale": {"domain": [408.33, 436.36], "nice": false, "zero": false}, "axis": null}
          }
        },
        {
          "data": {"name": "candles"},
          "transform": [{"filter": "datum.i == 184"}],
          "mark": {"type": "tick", "orient": "horizontal", "size": 59, "thickness": 20, "color": "#000000", "opacity": 1},
          "encoding": {
            "x": {"datum": 199.4, "type": "quantitative", "scale": {"domain": [-4.462, 202.657], "nice": false, "zero": false}, "axis": null},
            "y": {"field": "c", "type": "quantitative", "scale": {"domain": [408.33, 436.36], "nice": false, "zero": false}, "axis": null}
          }
        },
        {
          "data": {"name": "candles"},
          "transform": [{"filter": "datum.i == 184"}],
          "mark": {"type": "text", "color": "#ff1a1a", "fontSize": 13.5, "align": "center", "baseline": "middle", "font": "Liberation Sans"},
          "encoding": {
            "x": {"datum": 199.4, "type": "quantitative", "scale": {"domain": [-4.462, 202.657], "nice": false, "zero": false}, "axis": null},
            "y": {"field": "c", "type": "quantitative", "scale": {"domain": [408.33, 436.36], "nice": false, "zero": false}, "axis": null},
            "text": {"field": "c", "type": "quantitative", "format": ".4f"}
          }
        }
      ]
    }
  ]
}
